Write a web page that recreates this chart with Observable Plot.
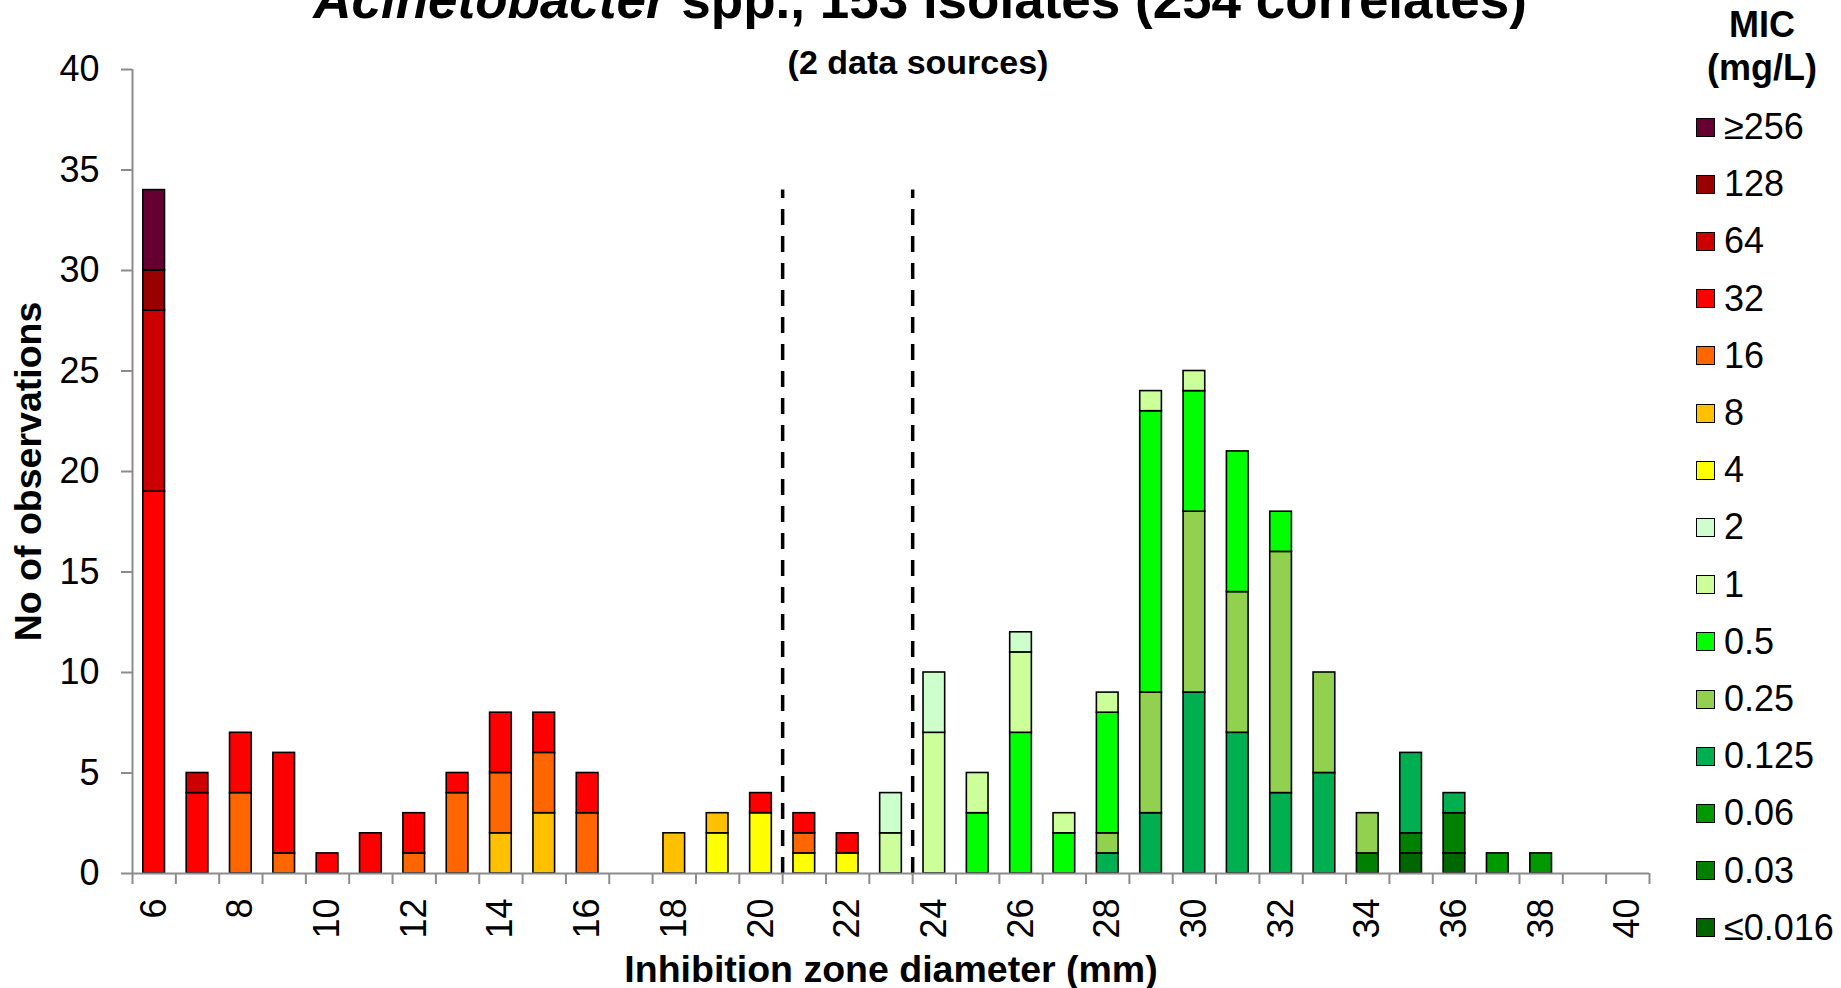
<!DOCTYPE html>
<html>
<head>
<meta charset="utf-8">
<script src="https://cdn.jsdelivr.net/npm/d3@7"></script>
<script src="https://cdn.jsdelivr.net/npm/@observablehq/plot@0.6"></script>
<style>
  html, body { margin: 0; padding: 0; background: #fff; overflow: hidden; }
  #wrap { position: relative; width: 1841px; height: 988px; overflow: hidden; font-family: "Liberation Sans", Arial, sans-serif; color: #000; }
  #wrap svg { position: absolute; left: 0; top: 0; }
  .title { position: absolute; white-space: nowrap; transform: translateX(-50%); font-weight: bold; }
  .leg-row { position: absolute; left: 1696px; height: 40px; display: flex; align-items: center; font-size: 36px; line-height: 36px; white-space: nowrap; }
  .leg-sw { width: 19px; height: 19px; box-sizing: border-box; border: 1.5px solid #000; margin-right: 9px; }
</style>
</head>
<body>
<div id="wrap"></div>
<script>
// ---- data ----
const micOrderBottomToTop = ["≤0.016","0.03","0.06","0.125","0.25","0.5","1","2","4","8","16","32","64","128","≥256"];
const micLegendOrder = ["≥256","128","64","32","16","8","4","2","1","0.5","0.25","0.125","0.06","0.03","≤0.016"];
const micColors = ["#660033","#990000","#CC0000","#FF0000","#FF6600","#FFC000","#FFFF00","#CCFFCC","#CCFF99","#00FF00","#92D050","#00B050","#009900","#008000","#006600"];

// stacked segments: diameter (mm), MIC (mg/L), count
const segDiameter = [6,6,6,6, 7,7, 8,8, 9,9, 10, 11, 12,12, 13,13, 14,14,14, 15,15,15, 16,16,
  18, 19,19, 20,20, 21,21,21, 22,22, 23,23, 24,24, 25,25, 26,26,26, 27,27,
  28,28,28,28, 29,29,29,29, 30,30,30,30, 31,31,31, 32,32,32, 33,33, 34,34, 35,35,35, 36,36,36, 37, 38];
const segMic = ["32","64","128","≥256", "32","64", "16","32", "16","32", "32", "32", "16","32", "16","32", "8","16","32", "8","16","32", "16","32",
  "8", "4","8", "4","32", "4","16","32", "4","32", "1","2", "1","2", "0.5","1", "0.5","1","2", "0.5","1",
  "0.125","0.25","0.5","1", "0.125","0.25","0.5","1", "0.125","0.25","0.5","1", "0.125","0.25","0.5", "0.125","0.25","0.5", "0.125","0.25",
  "0.03","0.25", "≤0.016","0.03","0.125", "≤0.016","0.03","0.125", "0.06", "0.06"];
const segCount = [19,9,2,4, 4,1, 4,3, 1,5, 1, 2, 1,2, 4,1, 2,3,3, 3,3,2, 3,2,
  2, 2,1, 3,1, 1,1,1, 1,1, 2,2, 7,3, 3,2, 7,4,1, 2,1,
  1,1,6,1, 3,6,14,1, 9,9,6,1, 7,7,7, 4,12,2, 5,5, 1,2, 1,1,4, 1,2,1, 1, 1];

const yTicks = [0,5,10,15,20,25,30,35,40];
const xLabelTicks = [6,8,10,12,14,16,18,20,22,24,26,28,30,32,34,36,38,40];
const xDomain = [5.5, 40.5];
const xBoundaries = d3.range(5.5, 41, 1);
const breakpoints = [20.5, 23.5];
const breakpointTop = 34;

const segments = segDiameter.map((d, i) => ({d, mic: segMic[i], n: segCount[i]}));

const gray = "#8c8c8c";
const chart = Plot.plot({
  width: 1841,
  height: 988,
  marginLeft: 132,
  marginRight: 192,
  marginTop: 69,
  marginBottom: 115,
  style: {fontFamily: "'Liberation Sans', Arial, sans-serif", fontSize: "36px", color: "#000", background: "transparent", overflow: "visible"},
  x: {domain: xDomain},
  y: {domain: [0, 40]},
  color: {domain: micLegendOrder, range: micColors},
  marks: [
    Plot.rectY(segments, Plot.stackY({
      x1: d => d.d - 0.25,
      x2: d => d.d + 0.25,
      y: "n",
      fill: "mic",
      order: micOrderBottomToTop,
      stroke: "#000",
      strokeWidth: 1.6
    })),
    Plot.ruleX(breakpoints, {y1: 0, y2: breakpointTop, stroke: "#000", strokeWidth: 3.5, strokeDasharray: "16,11"}),
    Plot.ruleX([xDomain[0]], {stroke: gray, strokeWidth: 2}),
    Plot.ruleY([0], {stroke: gray, strokeWidth: 2}),
    Plot.axisY({ticks: yTicks, tickSize: 11, tickPadding: 22, stroke: gray, strokeWidth: 2, fill: "#000", fontSize: 36, label: null}),
    Plot.axisX({ticks: xBoundaries, tickSize: 11, tickFormat: () => "", stroke: gray, strokeWidth: 2, label: null}),
    Plot.axisX({ticks: xLabelTicks, tickSize: 0, tickPadding: 25, tickRotate: -90, fill: "#000", fontSize: 36, label: null}),
    Plot.text(["No of observations"], {text: d => d, frameAnchor: "left", dx: -104, rotate: -90, textAnchor: "middle", fontSize: 37.5, fontWeight: "bold", lineAnchor: "middle", fill: "#000"}),
    Plot.text(["Inhibition zone diameter (mm)"], {text: d => d, frameAnchor: "bottom", dy: 96, textAnchor: "middle", fontSize: 37.5, fontWeight: "bold", lineAnchor: "middle", fill: "#000"})
  ]
});

const wrap = document.getElementById("wrap");
wrap.appendChild(chart);

// title & subtitle
const title = document.createElement("div");
title.className = "title";
title.style.cssText = "left:920px; top:-27px; font-size:53px; line-height:53px;";
title.innerHTML = "<i>Acinetobacter</i> spp., 153 isolates (254 correlates)";
wrap.appendChild(title);

const subtitle = document.createElement("div");
subtitle.className = "title";
subtitle.style.cssText = "left:918px; top:45px; font-size:34px; line-height:34px;";
subtitle.textContent = "(2 data sources)";
wrap.appendChild(subtitle);

// legend
const legTitle = document.createElement("div");
legTitle.className = "title";
legTitle.style.cssText = "left:1762px; top:3px; font-size:36px; line-height:43px; text-align:center;";
legTitle.innerHTML = "MIC<br>(mg/L)";
wrap.appendChild(legTitle);

const color = chart.scale("color");
micLegendOrder.forEach((m, i) => {
  const row = document.createElement("div");
  row.className = "leg-row";
  row.style.top = (127 + i * 57.2 - 20) + "px";
  const sw = document.createElement("div");
  sw.className = "leg-sw";
  sw.style.background = color.apply(m);
  const lab = document.createElement("span");
  lab.textContent = m;
  row.appendChild(sw);
  row.appendChild(lab);
  wrap.appendChild(row);
});
</script>
</body>
</html>
